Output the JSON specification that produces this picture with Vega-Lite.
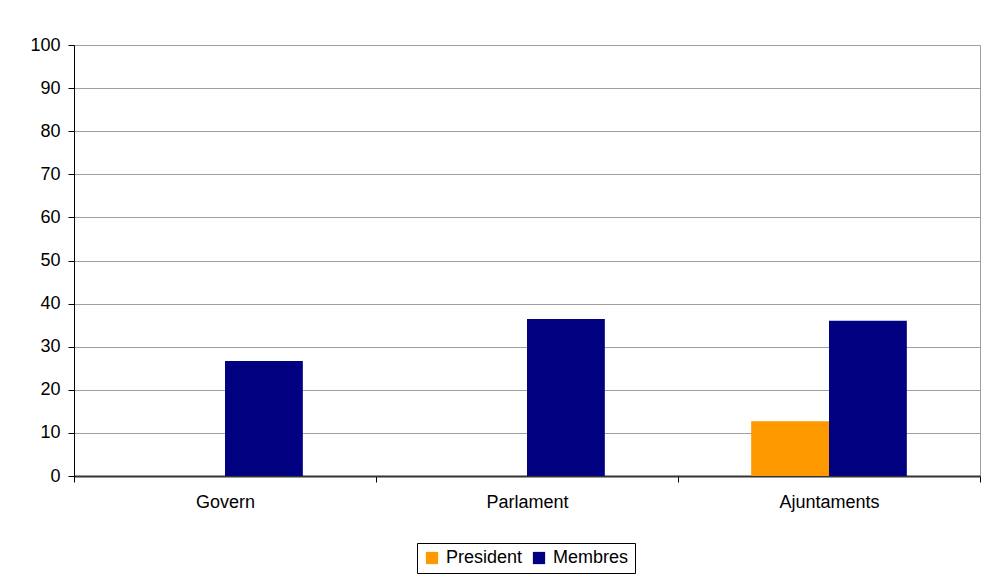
{
  "$schema": "https://vega.github.io/schema/vega-lite/v6.json",
  "width": 906,
  "height": 431,
  "autosize": "none",
  "padding": {"left": 74, "top": 45, "right": 5, "bottom": 104},
  "background": "white",
  "data": {
    "values": [
      {"cat": "Govern", "series": "President", "value": 0},
      {"cat": "Govern", "series": "Membres", "value": 26.7},
      {"cat": "Parlament", "series": "President", "value": 0},
      {"cat": "Parlament", "series": "Membres", "value": 36.4},
      {"cat": "Ajuntaments", "series": "President", "value": 12.7},
      {"cat": "Ajuntaments", "series": "Membres", "value": 36.0}
    ]
  },
  "mark": {"type": "bar"},
  "encoding": {
    "x": {
      "field": "cat",
      "type": "nominal",
      "sort": ["Govern", "Parlament", "Ajuntaments"],
      "scale": {"paddingInner": 0, "paddingOuter": 0},
      "axis": {
        "title": null,
        "labelAngle": 0,
        "tickBand": "extent",
        "tickSize": 6,
        "tickColor": "#000000",
        "labelPadding": 11,
        "domainColor": "#333333",
        "domainWidth": 2
      }
    },
    "xOffset": {
      "field": "series",
      "type": "nominal",
      "sort": ["President", "Membres"],
      "scale": {"paddingInner": 0, "paddingOuter": 0.94}
    },
    "y": {
      "field": "value",
      "type": "quantitative",
      "scale": {"domain": [0, 100], "nice": false},
      "axis": {
        "title": null,
        "values": [0, 10, 20, 30, 40, 50, 60, 70, 80, 90, 100],
        "grid": true,
        "gridColor": "#a0a0a0",
        "gridOpacity": 1,
        "tickSize": 6,
        "tickColor": "#000000",
        "labelPadding": 8,
        "domainColor": "#000000"
      }
    },
    "color": {
      "field": "series",
      "type": "nominal",
      "scale": {"domain": ["President", "Membres"], "range": ["#FF9900", "#000080"]},
      "legend": {
        "title": null,
        "orient": "none",
        "direction": "horizontal",
        "legendX": 343,
        "legendY": 498,
        "symbolType": "square",
        "symbolSize": 150,
        "symbolStrokeWidth": 0,
        "symbolOpacity": 1,
        "strokeColor": "#000000",
        "padding": 6,
        "columnPadding": 7,
        "labelOffset": 5,
        "labelFontSize": 18,
        "labelColor": "#000000"
      }
    }
  },
  "config": {
    "font": "Liberation Sans",
    "view": {"stroke": "#a0a0a0", "strokeWidth": 1},
    "axis": {"labelFontSize": 18, "labelColor": "#000000"},
    "legend": {"labelFont": "Liberation Sans"}
  }
}
